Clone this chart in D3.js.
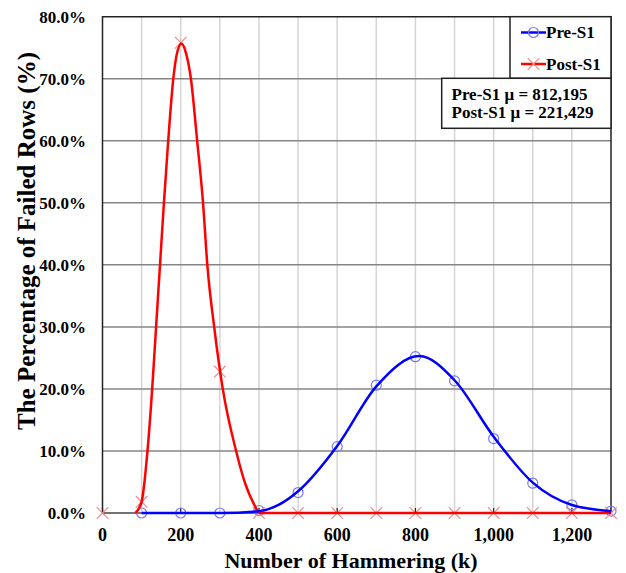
<!DOCTYPE html>
<html>
<head>
<meta charset="utf-8">
<script src="https://cdn.jsdelivr.net/npm/d3@7"></script>
<style>
    body { margin: 0; background: #fff; }
    text { font-family: "Liberation Serif", "Times New Roman", serif; font-weight: bold; fill: #000; }
</style>
</head>
<body>
<svg id="chart" width="626" height="573"></svg>
<script>
// measured points (markers), x in thousands of hammers, y in %
var markerX = [0, 100, 200, 300, 400, 500, 600, 700, 800, 900, 1000, 1100, 1200, 1300];
var preS1 = [null, 0, 0, 0, 0.4, 3.3, 10.7, 20.6, 25.2, 21.3, 12.0, 4.8, 1.3, 0.3];
var postS1 = [0, 1.8, 75.8, 22.8, 0, 0, 0, 0, 0, 0, 0, 0, 0, 0];

// fitted curves
var preCurveX = [100, 200, 300, 400, 450, 500, 600, 700, 810, 900, 1000, 1100, 1200, 1300];
var preCurveY = [0, 0, 0, 0.3, 1.3, 3.5, 10.8, 20.4, 25.3, 21.4, 12.3, 4.9, 1.3, 0.3];
var postCurveX = [84, 100, 115, 127, 137, 147, 157, 168, 181, 190, 202, 214, 226, 242, 257, 268, 286.5, 307.5, 341.5, 364.5, 399];
var postCurveY = [0, 1.8, 10, 20, 30, 40, 50, 60, 70, 74, 75.7, 74, 70, 60, 50, 40, 29.5, 20, 10, 4.8, 0];
var postTailX = [399, 1300];
var postTailY = [0, 0];

var yTicks = [0, 10, 20, 30, 40, 50, 60, 70, 80];
var xTicks = [0, 200, 400, 600, 800, 1000, 1200];
var xGrid = [100, 200, 300, 400, 500, 600, 700, 800, 900, 1000, 1100, 1200];
var legendNames = ["Pre-S1", "Post-S1"];
var noteLines = ["Pre-S1 \u03bc = 812,195", "Post-S1 \u03bc = 221,429"];

(function () {
    var svg = d3.select("#chart");
    var pLeft = 102.5, pTop = 16.7, pRight = 611, pBottom = 513;

    var x = d3.scaleLinear().domain([0, 1300]).range([pLeft, pRight]);
    var y = d3.scaleLinear().domain([0, 80]).range([pBottom, pTop]);

    function pairs(xs, ys) {
        return xs.map(function (d, i) { return [d, ys[i]]; });
    }

    // grid
    svg.append("g").selectAll("line").data(xGrid).enter().append("line")
        .attr("x1", function (d) { return x(d); }).attr("x2", function (d) { return x(d); })
        .attr("y1", pTop).attr("y2", pBottom)
        .attr("stroke", "#d4d4d4").attr("stroke-width", 1.5);

    svg.append("g").selectAll("line").data(yTicks.slice(1, -1)).enter().append("line")
        .attr("x1", pLeft).attr("x2", pRight)
        .attr("y1", function (d) { return y(d); }).attr("y2", function (d) { return y(d); })
        .attr("stroke", "#858585").attr("stroke-width", 1.5);

    // frame
    svg.append("path")
        .attr("d", "M" + pLeft + "," + pBottom + "V" + pTop + "H" + pRight + "V" + pBottom)
        .attr("fill", "none").attr("stroke", "#222").attr("stroke-width", 1.5);
    svg.append("line")
        .attr("x1", pLeft).attr("x2", pRight).attr("y1", pBottom).attr("y2", pBottom)
        .attr("stroke", "#444").attr("stroke-width", 1.5);

    // x ticks (inside)
    svg.append("g").selectAll("line").data(xTicks).enter().append("line")
        .attr("x1", function (d) { return x(d); }).attr("x2", function (d) { return x(d); })
        .attr("y1", pBottom).attr("y2", pBottom - 5)
        .attr("stroke", "#222").attr("stroke-width", 1.2);

    // tick labels
    svg.append("g").selectAll("text").data(yTicks).enter().append("text")
        .attr("x", 86).attr("y", function (d) { return y(d); })
        .attr("dy", "0.35em").attr("text-anchor", "end")
        .style("font-size", "17px")
        .text(function (d) { return d.toFixed(1) + "%"; });

    svg.append("g").selectAll("text").data(xTicks).enter().append("text")
        .attr("x", function (d) { return x(d); }).attr("y", 540.5)
        .attr("text-anchor", "middle")
        .style("font-size", "18px")
        .text(function (d) { return d3.format(",")(d); });

    // axis titles
    svg.append("text")
        .attr("x", 351).attr("y", 567.5).attr("text-anchor", "middle")
        .style("font-size", "22px")
        .text("Number of Hammering (k)");

    svg.append("text")
        .attr("transform", "translate(35,241) rotate(-90)")
        .attr("text-anchor", "middle")
        .style("font-size", "25px")
        .text("The Percentage of Failed Rows (%)");

    // markers
    var preColor = "#0000ff", postColor = "#ff0000";

    svg.append("g").selectAll("circle")
        .data(pairs(markerX, preS1).filter(function (d) { return d[1] !== null; }))
        .enter().append("circle")
        .attr("cx", function (d) { return x(d[0]); }).attr("cy", function (d) { return y(d[1]); })
        .attr("r", 5).attr("fill", "none")
        .attr("stroke", "#7a7af5").attr("stroke-width", 1.2);

    var cross = d3.symbol().type(d3.symbolX).size(90);
    svg.append("g").selectAll("path")
        .data(pairs(markerX, postS1))
        .enter().append("path")
        .attr("d", cross)
        .attr("transform", function (d) { return "translate(" + x(d[0]) + "," + y(d[1]) + ")"; })
        .attr("fill", "none").attr("stroke", "#f08a8a").attr("stroke-width", 1.2);

    // curves
    var line = d3.line()
        .x(function (d) { return x(d[0]); })
        .y(function (d) { return y(d[1]); })
        .curve(d3.curveMonotoneX);

    svg.append("path")
        .datum(pairs(postTailX, postTailY))
        .attr("fill", "none").attr("stroke", postColor).attr("stroke-width", 2.5)
        .attr("d", line);

    svg.append("path")
        .datum(pairs(postCurveX, postCurveY))
        .attr("fill", "none").attr("stroke", postColor).attr("stroke-width", 2.5)
        .attr("d", line);

    svg.append("path")
        .datum(pairs(preCurveX, preCurveY))
        .attr("fill", "none").attr("stroke", preColor).attr("stroke-width", 2.5)
        .attr("d", line);

    // legend
    var lg = svg.append("g");
    lg.append("rect").attr("x", 510).attr("y", pTop).attr("width", pRight - 510).attr("height", 78.3 - pTop)
        .attr("fill", "#fff").attr("stroke", "#222").attr("stroke-width", 1.5);
    var items = lg.selectAll("g").data(legendNames).enter().append("g")
        .attr("transform", function (d, i) { return "translate(0," + (32.5 + i * 31.5) + ")"; });
    items.append("line").attr("x1", 521).attr("x2", 546).attr("y1", 0).attr("y2", 0)
        .attr("stroke", function (d, i) { return i === 0 ? preColor : postColor; }).attr("stroke-width", 2.5);
    items.each(function (d, i) {
        var g = d3.select(this);
        if (i === 0) {
            g.append("circle").attr("cx", 533.5).attr("cy", 0).attr("r", 5)
                .attr("fill", "none").attr("stroke", "#7a7af5").attr("stroke-width", 1.2);
        } else {
            g.append("path").attr("d", cross).attr("transform", "translate(533.5,0)")
                .attr("fill", "none").attr("stroke", "#f08a8a").attr("stroke-width", 1.2);
        }
    });
    items.append("text").attr("x", 546).attr("y", 0).attr("dy", "0.35em")
        .style("font-size", "17px")
        .text(function (d) { return d; });

    // mean note
    var nt = svg.append("g");
    nt.append("rect").attr("x", 441.7).attr("y", 78.3).attr("width", pRight - 441.7).attr("height", 50)
        .attr("fill", "#fff").attr("stroke", "#222").attr("stroke-width", 1.5);
    nt.selectAll("text").data(noteLines).enter().append("text")
        .attr("x", 451.5).attr("y", function (d, i) { return 99.5 + i * 18.5; })
        .style("font-size", "17px")
        .text(function (d) { return d; });
})();
</script>
</body>
</html>
